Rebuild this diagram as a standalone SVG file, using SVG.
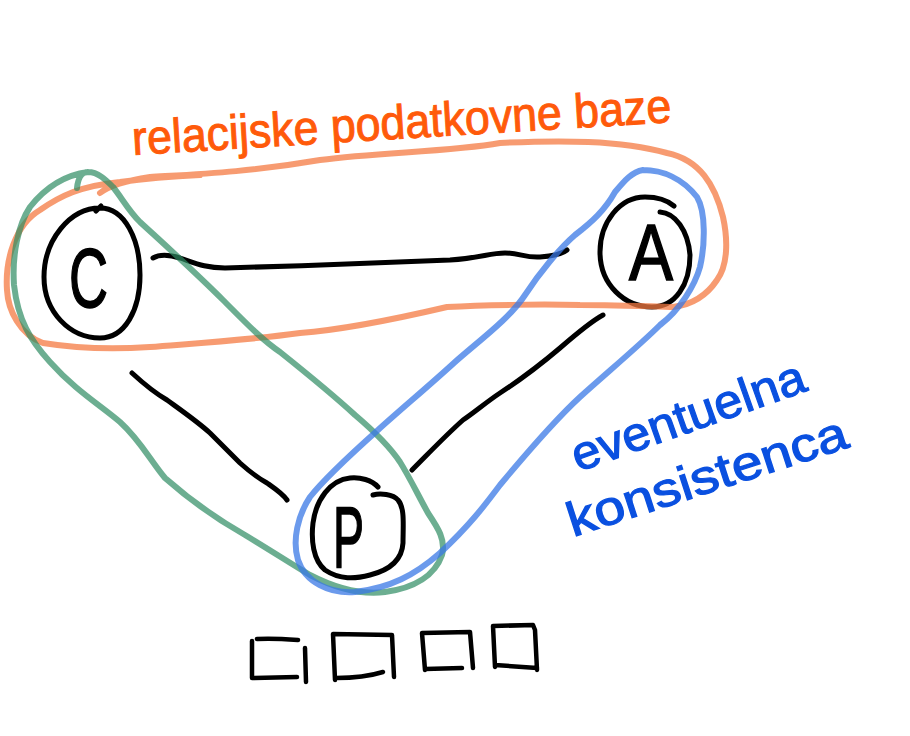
<svg xmlns="http://www.w3.org/2000/svg" width="910" height="736" viewBox="0 0 910 736">
<style>
.ink{fill:none;stroke:#000;stroke-width:5;stroke-linecap:round;stroke-linejoin:round}
.box{fill:none;stroke:#000;stroke-width:4.5;stroke-linecap:round;stroke-linejoin:round}
.loop{fill:none;stroke-width:6;stroke-linecap:round;stroke-linejoin:round}
.letter{font-family:"Liberation Sans","DejaVu Sans",sans-serif;fill:#000;stroke:#000;stroke-width:1.6;text-anchor:start}
.orangeT{font-family:"Liberation Sans","DejaVu Sans",sans-serif;fill:#ff5a0a;stroke:#ff5a0a;stroke-width:1;font-size:48px}
.blueT{font-family:"Liberation Sans","DejaVu Sans",sans-serif;fill:#0a50e0;stroke:#0a50e0;stroke-width:1.2;font-size:48px}
</style>
<rect width="910" height="736" fill="#fff"/>

<g id="connectors">
<path class="ink" d="M153,258 C160,254 170,255 180,258 C195,263 205,268 225,268 C300,266 380,263 450,260 C480,258 490,253 505,253 C520,253 525,258 540,257 C555,256 562,254 567,250"/>
<path class="ink" d="M132,373 C145,385 155,393 167,400 C185,413 198,422 210,433 C222,445 232,455 240,463 C250,472 258,478 267,483 C277,490 283,494 287,500"/>
<path class="ink" d="M603,315 C590,322 575,335 560,348 C540,365 520,380 500,393 C485,403 475,412 463,420 C445,436 430,452 412,470"/>
</g>

<g id="node-C">
<path class="ink" d="M100,208 C125,208 140,240 140,275 C140,310 125,338 100,338 C70,338 44,312 44,277 C44,240 70,208 100,208 M96,211 L101,206"/>
<text class="letter" x="69" y="307" font-size="84" textLength="39" lengthAdjust="spacingAndGlyphs">C</text>
</g>

<g id="node-A">
<path class="ink" d="M660,212 C675,213 688,230 690,255 C690,285 675,307 652,307 C625,307 600,285 600,252 C600,222 620,197 645,197 C658,197 667,200 674,206"/>
<text class="letter" x="629" y="280" font-size="80" textLength="44" lengthAdjust="spacingAndGlyphs">A</text>
</g>

<g id="node-P">
<path class="ink" d="M373,495 C380,493 393,494 398,500 C405,508 403,525 403,543 C402,560 390,570 370,575 C355,579 340,580 325,570 C313,560 311,540 313,523 C316,500 330,480 350,478 C360,477 372,480 378,487"/>
<text class="letter" x="333" y="567" font-size="88" textLength="31" lengthAdjust="spacingAndGlyphs">P</text>
</g>

<g id="storage">
<path class="box" d="M298,640 C285,639 270,638 257,639 M252,641 L252,678 L297,677 M305,648 L306,682"/>
<path class="box" d="M335,680 L333,634 L392,635 L394,677 M336,678 C355,678 370,676 383,672"/>
<path class="box" d="M425,670 L422,633 L470,632 L473,668 M425,669 L462,668"/>
<path class="box" d="M495,667 L493,626 L533,625 L535,630 L537,670 M495,665 L537,668"/>
</g>

<g id="group-relational">
<path class="loop" stroke="#f47a42" opacity="0.75" d="M100,193 C110,185 130,180 150,177 C200,174 250,172 320,160 C380,152 450,152 500,143 C560,140 620,140 667,153 C700,160 715,185 723,217 C728,240 728,265 717,280 C705,298 690,305 673,307 C640,306 610,305 580,305 C540,304 480,305 447,307 C400,318 340,330 300,333 C250,340 200,343 150,347 C120,349 80,349 43,343 C20,335 8,310 7,290 C5,260 15,225 40,210 C60,196 80,186 120,182 C150,178 180,176 200,175"/>
<text class="orangeT" x="133" y="155" transform="rotate(-3.5 133 155)" textLength="540" lengthAdjust="spacingAndGlyphs">relacijske podatkovne baze</text>
</g>

<g id="group-CP">
<path class="loop" stroke="#2e8b63" opacity="0.7" d="M77,188 C78,178 82,172 88,172 C98,172 106,180 113,187 C122,198 128,210 140,222 C165,245 195,272 223,300 C245,322 262,340 280,352 C305,372 330,392 355,415 C375,432 392,450 400,462 C410,478 418,495 428,513 C438,528 446,540 442,555 C435,575 415,588 385,592 C360,595 335,588 310,575 C290,563 270,550 245,535 C215,518 190,500 165,478 C150,460 140,440 120,422 C100,405 75,390 50,362 C30,340 18,320 14,285 C12,255 18,225 30,207 C45,188 65,175 88,172"/>
</g>

<g id="group-eventual">
<path class="loop" stroke="#3a78e6" opacity="0.75" d="M643,170 C662,170 682,178 697,197 C706,212 705,245 700,267 C695,285 680,310 660,325 C640,345 610,370 580,397 C555,420 525,455 500,485 C485,505 470,525 440,553 C415,575 390,588 355,592 C330,594 305,582 298,560 C292,540 298,515 310,497 C325,478 350,455 378,430 C400,410 430,385 455,362 C480,340 510,318 525,295 C540,272 560,248 575,235 C592,222 605,210 615,192 C625,180 632,172 643,170"/>
<text class="blueT" x="578" y="472" transform="rotate(-19.5 578 472)" textLength="245" lengthAdjust="spacingAndGlyphs">eventuelna</text>
<text class="blueT" x="573" y="537" transform="rotate(-18 573 537)" textLength="292" lengthAdjust="spacingAndGlyphs">konsistenca</text>
</g>
</svg>
